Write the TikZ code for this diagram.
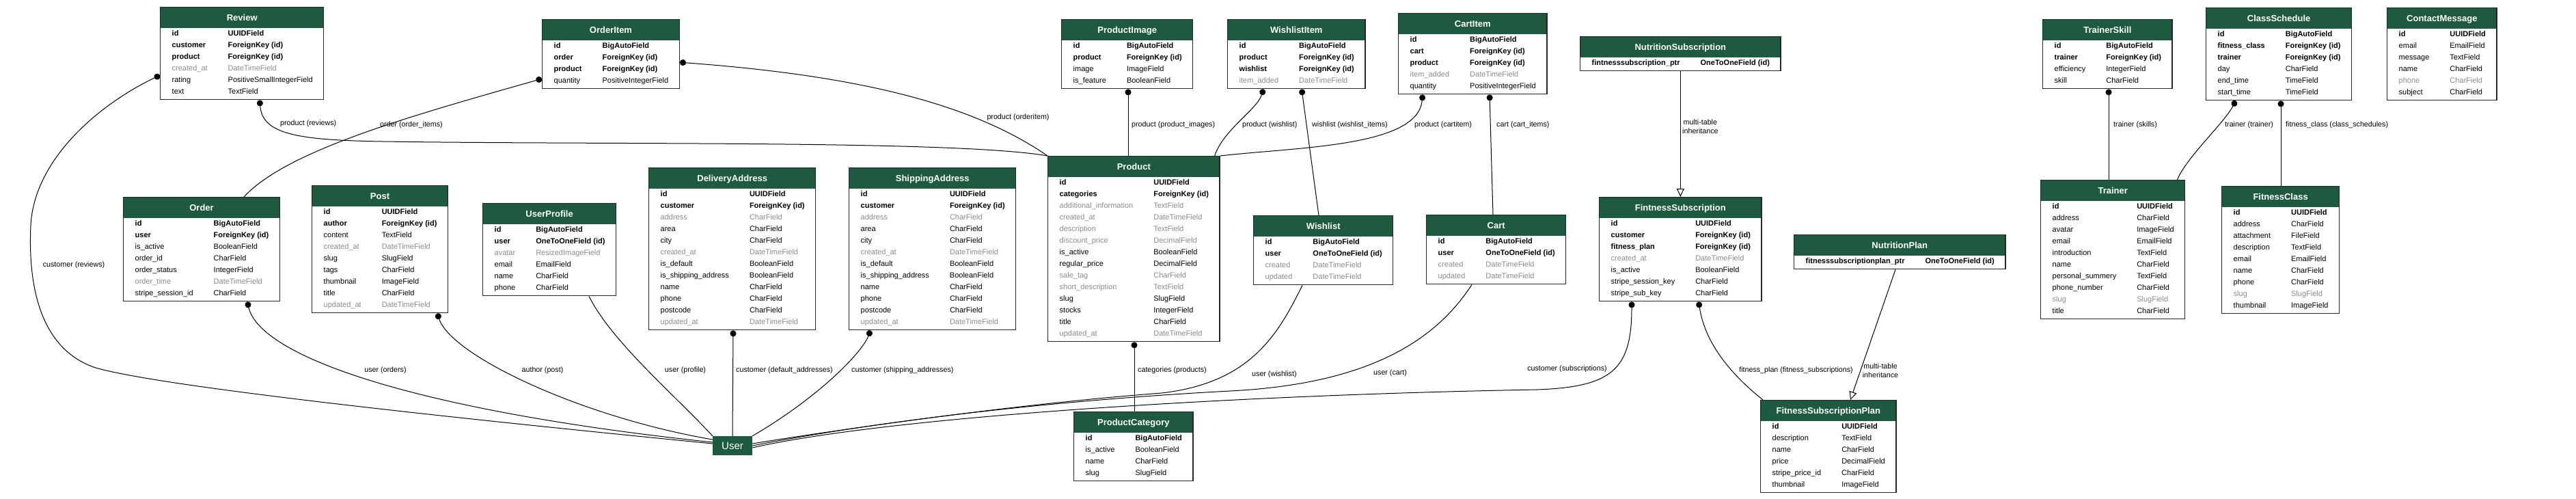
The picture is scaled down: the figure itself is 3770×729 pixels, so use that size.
\documentclass[tikz,border=0pt]{standalone}
\usepackage{fontspec}
\setmainfont{Liberation Sans}
\usetikzlibrary{arrows.meta}
\definecolor{hdr}{RGB}{30,90,64}
\definecolor{gry}{RGB}{140,140,140}
\newcommand\hdr[1]{\multicolumn{2}{@{}c@{}}{\color{white}\fontsize{13}{15}\selectfont\bfseries\rule[-10.5pt]{0pt}{30pt}#1}}
\newcommand\tbltxt[2]{\begin{tabular}{@{\hspace{17pt}}l@{\hspace{30pt}}l@{\hspace{16pt}}}\hdr{#1}\\#2\noalign{\vskip3pt}\end{tabular}}
\newcommand\rk[2]{\textbf{#1}&\textbf{#2}\\}
\newcommand\rg[2]{\textcolor{gry}{#1}&\textcolor{gry}{#2}\\}
\newcommand\rn[2]{#1&#2\\}
\newcommand\addrrows{\rk{id}{UUIDField}\rk{customer}{ForeignKey (id)}\rg{address}{CharField}\rn{area}{CharField}\rn{city}{CharField}\rg{created\_at}{DateTimeField}\rn{is\_default}{BooleanField}\rn{is\_shipping\_address}{BooleanField}\rn{name}{CharField}\rn{phone}{CharField}\rn{postcode}{CharField}\rg{updated\_at}{DateTimeField}}
\newcommand\ootrows{\rk{id}{BigAutoField}\rk{user}{OneToOneField (id)}\rg{created}{DateTimeField}\rg{updated}{DateTimeField}}
\begin{document}
\begin{tikzpicture}[x=1pt,y=-1pt,
  tbl/.style={anchor=north west, draw=black!85, line width=1.4pt, fill=white, inner sep=0pt,
    font=\fontsize{11}{17}\selectfont,
    path picture={\fill[hdr] (path picture bounding box.north west) rectangle ([yshift=-30pt]path picture bounding box.north east);}},
  fkedge/.style={line width=1pt, arrows={Circle[length=9pt]-}},
  plainedge/.style={line width=1pt},
  inh/.style={line width=1pt, arrows={-Triangle[open,length=12pt,width=11pt]}},
  elabel/.style={font=\fontsize{10.7}{13}\selectfont, inner sep=0pt}]
\useasboundingbox (0,0) rectangle (3770,729);
\fill[white] (0,0) rectangle (3770,729);
% top rank
\node[tbl] (review) at (234,10) {\tbltxt{Review}{\rk{id}{UUIDField}\rk{customer}{ForeignKey (id)}\rk{product}{ForeignKey (id)}\rg{created\_at}{DateTimeField}\rn{rating}{PositiveSmallIntegerField}\rn{text}{TextField}}};
\node[tbl] (orderitem) at (793,28) {\tbltxt{OrderItem}{\rk{id}{BigAutoField}\rk{order}{ForeignKey (id)}\rk{product}{ForeignKey (id)}\rn{quantity}{PositiveIntegerField}}};
\node[tbl] (productimage) at (1553,28) {\tbltxt{ProductImage}{\rk{id}{BigAutoField}\rk{product}{ForeignKey (id)}\rn{image}{ImageField}\rn{is\_feature}{BooleanField}}};
\node[tbl] (wishlistitem) at (1796,28) {\tbltxt{WishlistItem}{\rk{id}{BigAutoField}\rk{product}{ForeignKey (id)}\rk{wishlist}{ForeignKey (id)}\rg{item\_added}{DateTimeField}}};
\node[tbl] (cartitem) at (2046,19) {\tbltxt{CartItem}{\rk{id}{BigAutoField}\rk{cart}{ForeignKey (id)}\rk{product}{ForeignKey (id)}\rg{item\_added}{DateTimeField}\rn{quantity}{PositiveIntegerField}}};
\node[tbl] (nutritionsub) at (2312,53) {\tbltxt{NutritionSubscription}{\rk{fintnesssubscription\_ptr}{OneToOneField (id)}}};
\node[tbl] (trainerskill) at (2989,28) {\tbltxt{TrainerSkill}{\rk{id}{BigAutoField}\rk{trainer}{ForeignKey (id)}\rn{efficiency}{IntegerField}\rn{skill}{CharField}}};
\node[tbl] (classschedule) at (3228,11) {\tbltxt{ClassSchedule}{\rk{id}{BigAutoField}\rk{fitness\_class}{ForeignKey (id)}\rk{trainer}{ForeignKey (id)}\rn{day}{CharField}\rn{end\_time}{TimeField}\rn{start\_time}{TimeField}}};
\node[tbl] (contactmessage) at (3493,11) {\tbltxt{ContactMessage}{\rk{id}{UUIDField}\rn{email}{EmailField}\rn{message}{TextField}\rn{name}{CharField}\rg{phone}{CharField}\rn{subject}{CharField}}};
% middle rank
\node[tbl] (order) at (180,288) {\tbltxt{Order}{\rk{id}{BigAutoField}\rk{user}{ForeignKey (id)}\rn{is\_active}{BooleanField}\rn{order\_id}{CharField}\rn{order\_status}{IntegerField}\rg{order\_time}{DateTimeField}\rn{stripe\_session\_id}{CharField}}};
\node[tbl] (post) at (456,271) {\tbltxt{Post}{\rk{id}{UUIDField}\rk{author}{ForeignKey (id)}\rn{content}{TextField}\rg{created\_at}{DateTimeField}\rn{slug}{SlugField}\rn{tags}{CharField}\rn{thumbnail}{ImageField}\rn{title}{CharField}\rg{updated\_at}{DateTimeField}}};
\node[tbl] (userprofile) at (706,297) {\tbltxt{UserProfile}{\rk{id}{BigAutoField}\rk{user}{OneToOneField (id)}\rg{avatar}{ResizedImageField}\rn{email}{EmailField}\rn{name}{CharField}\rn{phone}{CharField}}};
\node[tbl] (delivery) at (949,245) {\tbltxt{DeliveryAddress}{\addrrows}};
\node[tbl] (shipping) at (1242,245) {\tbltxt{ShippingAddress}{\addrrows}};
\node[tbl] (product) at (1533,228) {\tbltxt{Product}{\rk{id}{UUIDField}\rk{categories}{ForeignKey (id)}\rg{additional\_information}{TextField}\rg{created\_at}{DateTimeField}\rg{description}{TextField}\rg{discount\_price}{DecimalField}\rn{is\_active}{BooleanField}\rn{regular\_price}{DecimalField}\rg{sale\_tag}{CharField}\rg{short\_description}{TextField}\rn{slug}{SlugField}\rn{stocks}{IntegerField}\rn{title}{CharField}\rg{updated\_at}{DateTimeField}}};
\node[tbl] (wishlist) at (1834,315) {\tbltxt{Wishlist}{\ootrows}};
\node[tbl] (cart) at (2087,314) {\tbltxt{Cart}{\ootrows}};
\node[tbl] (fitsub) at (2340,288) {\tbltxt{FintnessSubscription}{\rk{id}{UUIDField}\rk{customer}{ForeignKey (id)}\rk{fitness\_plan}{ForeignKey (id)}\rg{created\_at}{DateTimeField}\rn{is\_active}{BooleanField}\rn{stripe\_session\_key}{CharField}\rn{stripe\_sub\_key}{CharField}}};
\node[tbl] (nutritionplan) at (2625,343) {\tbltxt{NutritionPlan}{\rk{fitnesssubscriptionplan\_ptr}{OneToOneField (id)}}};
\node[tbl] (trainer) at (2986,263) {\tbltxt{Trainer}{\rk{id}{UUIDField}\rn{address}{CharField}\rn{avatar}{ImageField}\rn{email}{EmailField}\rn{introduction}{TextField}\rn{name}{CharField}\rn{personal\_summery}{TextField}\rn{phone\_number}{CharField}\rg{slug}{SlugField}\rn{title}{CharField}}};
\node[tbl] (fitnessclass) at (3251,272) {\tbltxt{FitnessClass}{\rk{id}{UUIDField}\rn{address}{CharField}\rn{attachment}{FileField}\rn{description}{TextField}\rn{email}{EmailField}\rn{name}{CharField}\rn{phone}{CharField}\rg{slug}{SlugField}\rn{thumbnail}{ImageField}}};
% bottom rank
\node[fill=hdr, text=white, minimum width=58pt, minimum height=28pt, inner sep=0pt, font=\fontsize{15}{18}\selectfont] (user) at (1072,652) {User};
\node[tbl] (productcategory) at (1571,602) {\tbltxt{ProductCategory}{\rk{id}{BigAutoField}\rn{is\_active}{BooleanField}\rn{name}{CharField}\rn{slug}{SlugField}}};
\node[tbl] (fsplan) at (2576,585) {\tbltxt{FitnessSubscriptionPlan}{\rk{id}{UUIDField}\rn{description}{TextField}\rn{name}{CharField}\rn{price}{DecimalField}\rn{stripe\_price\_id}{CharField}\rn{thumbnail}{ImageField}}};
% edges top
\draw[fkedge] ([yshift=-32pt]review.west) .. controls (150,150) and (50,230) .. (45,330) .. controls (40,440) and (70,515) .. (140,538) .. controls (250,570) and (800,625) .. ([yshift=3pt]user.west);
\node[elabel] (l1) at (108,388) {customer (reviews)};
\draw[fkedge] ([xshift=146pt]review.south west) .. controls (384,195) and (430,205) .. (560,207) .. controls (900,212) and (1400,205) .. (product.north west);
\node[elabel, anchor=west] (l2) at (410,181) {product (reviews)};
\draw[fkedge] ([yshift=-36pt]orderitem.west) .. controls (600,170) and (420,220) .. ([xshift=177pt]order.north west);
\node[elabel, anchor=west] (l3) at (556,183) {order (order\_items)};
\draw[fkedge] ([yshift=-12pt]orderitem.east) .. controls (1250,110) and (1420,150) .. (product.north west);
\node[elabel] (l4) at (1490,172) {product (orderitem)};
\draw[fkedge] ([xshift=98pt]productimage.south west) -- ([xshift=118pt]product.north west);
\node[elabel, anchor=west] (l5) at (1656,183) {product (product\_images)};
\draw[fkedge] ([xshift=53pt]wishlistitem.south west) .. controls (1840,160) and (1790,190) .. ([xshift=-8pt]product.north east);
\node[elabel, anchor=west] (l6) at (1818,183) {product (wishlist)};
\draw[fkedge] ([xshift=109pt]wishlistitem.south west) -- ([xshift=96pt]wishlist.north west);
\node[elabel, anchor=west] (l7) at (1920,183) {wishlist (wishlist\_items)};
\draw[fkedge] ([xshift=36pt]cartitem.south west) .. controls (2075,215) and (1900,215) .. (product.north east);
\node[elabel, anchor=west] (l8) at (2070,183) {product (cartitem)};
\draw[fkedge] ([xshift=134pt]cartitem.south west) -- ([xshift=98pt]cart.north west);
\node[elabel, anchor=west] (l9) at (2190,183) {cart (cart\_items)};
\draw[inh] (nutritionsub.south) -- (nutritionsub.south |- fitsub.north);
\node[elabel, anchor=west, align=center] (l10) at (2462,185) {multi-table\\inheritance};
\draw[fkedge] ([xshift=97pt]trainerskill.south west) -- ([xshift=100pt]trainer.north west);
\node[elabel, anchor=west] (l11) at (3093,183) {trainer (skills)};
\draw[fkedge] ([xshift=44pt]classschedule.south west) .. controls (3255,180) and (3200,230) .. ([xshift=-12pt]trainer.north east);
\node[elabel, anchor=west] (l12) at (3256,183) {trainer (trainer)};
\draw[fkedge] ([xshift=110pt]classschedule.south west) -- ([xshift=87pt]fitnessclass.north west);
\node[elabel, anchor=west] (l13) at (3345,183) {fitness\_class (class\_schedules)};
% edges bottom
\draw[fkedge] ([xshift=182pt]order.south west) .. controls (380,520) and (600,600) .. ([yshift=5pt]user.west);
\node[elabel] (l14) at (564,542) {user (orders)};
\draw[fkedge] ([xshift=184pt]post.south west) .. controls (660,520) and (850,610) .. ([yshift=9pt]user.west);
\node[elabel] (l15) at (794,542) {author (post)};
\draw[plainedge] ([xshift=156pt]userprofile.south west) .. controls (895,500) and (990,580) .. (user.north west);
\node[elabel] (l16) at (1003,542) {user (profile)};
\draw[fkedge] ([xshift=124pt]delivery.south west) -- (user.north);
\node[elabel, anchor=west] (l17) at (1077,542) {customer (default\_addresses)};
\draw[fkedge] ([xshift=32pt]shipping.south west) .. controls (1262,515) and (1200,580) .. (user.north east);
\node[elabel, anchor=west] (l18) at (1246,542) {customer (shipping\_addresses)};
\draw[fkedge] ([xshift=127pt]product.south west) -- ([xshift=89pt]productcategory.north west);
\node[elabel, anchor=west] (l19) at (1665,542) {categories (products)};
\draw[plainedge] ([xshift=72pt]wishlist.south west) .. controls (1870,490) and (1830,560) .. (1700,575) .. controls (1500,590) and (1250,625) .. ([yshift=3pt]user.east);
\node[elabel, anchor=west] (l20) at (1832,548) {user (wishlist)};
\draw[plainedge] ([xshift=67pt]cart.south west) .. controls (2100,500) and (2000,562) .. (1800,572) .. controls (1500,588) and (1250,623) .. (user.east);
\node[elabel, anchor=west] (l21) at (2010,546) {user (cart)};
\draw[fkedge] ([xshift=48pt]fitsub.south west) .. controls (2388,540) and (2360,566) .. (2250,570) .. controls (1800,578) and (1300,610) .. ([yshift=-3pt]user.east);
\node[elabel, anchor=east] (l22) at (2352,540) {customer (subscriptions)};
\draw[fkedge] ([xshift=146pt]fitsub.south west) .. controls (2495,500) and (2530,545) .. ([xshift=4pt]fsplan.north west);
\node[elabel, anchor=east] (l23) at (2712,542) {fitness\_plan (fitness\_subscriptions)};
\draw[inh] ([xshift=149pt]nutritionplan.south west) -- ([xshift=132pt]fsplan.north west);
\node[elabel, align=center] (l24) at (2752,542) {multi-table\\inheritance};
\end{tikzpicture}
\end{document}
